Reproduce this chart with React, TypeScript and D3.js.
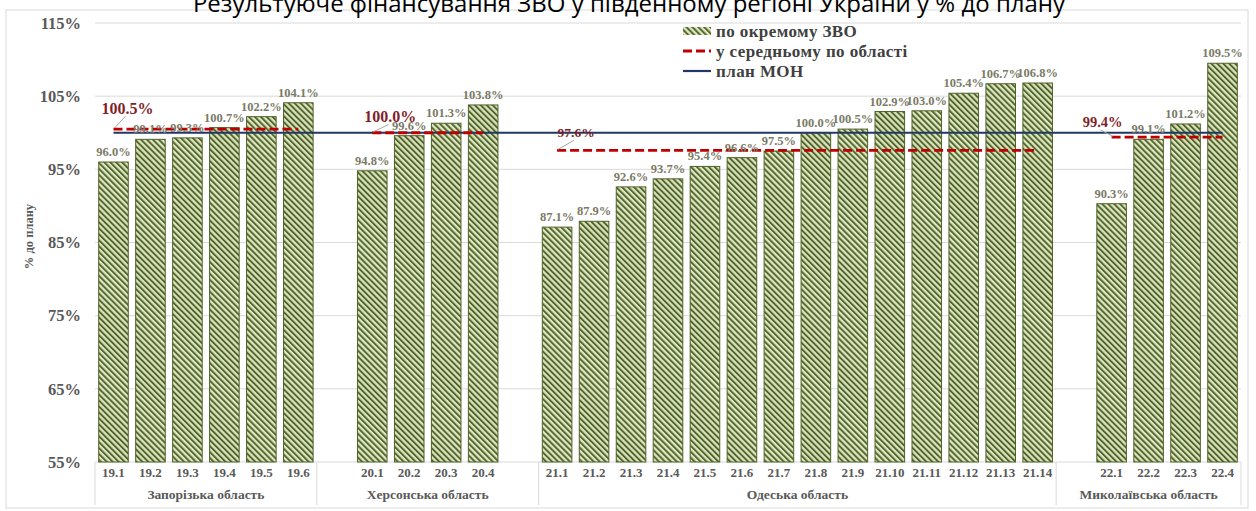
import React from 'react';
import { scaleBand, scaleLinear } from 'd3';

const W = 1256;
const H = 511;

const title = 'Результуюче фінансування ЗВО у південному регіоні України у % до плану';

// regions, in the order they stand on the axis
const regions = ['Запорізька область', 'Херсонська область', 'Одеська область', 'Миколаївська область'];

// '' marks an empty category slot, as in the source workbook
const zapCodes = ['19.1', '19.2', '19.3', '19.4', '19.5', '19.6'];
const zapValues = [96.0, 99.1, 99.3, 100.7, 102.2, 104.1];

const khersonCodes = ['', '20.1', '20.2', '20.3', '20.4', ''];
const khersonValues = [null, 94.8, 99.6, 101.3, 103.8, null];

const odesaCodes = ['21.1', '21.2', '21.3', '21.4', '21.5', '21.6', '21.7', '21.8', '21.9', '21.10', '21.11', '21.12', '21.13', '21.14'];
const odesaValues = [87.1, 87.9, 92.6, 93.7, 95.4, 96.6, 97.5, 100.0, 100.5, 102.9, 103.0, 105.4, 106.7, 106.8];

const mykolaivCodes = ['', '22.1', '22.2', '22.3', '22.4'];
const mykolaivValues = [null, 90.3, 99.1, 101.2, 109.5];

const regionAverages = [100.5, 100.0, 97.6, 99.4];
const planValue = 100;

const yTicks = [55, 65, 75, 85, 95, 105, 115];

const legendLabels = ['по окремому ЗВО', 'у середньому по області', 'план МОН'];

// where the average labels sit, relative to the first point of each line
const avgLabelOffsets = [
    { dx: 14, dy: -21, size: 16 },
    { dx: 18, dy: -16, size: 16 },
    { dx: 19, dy: -18, size: 13.5 },
    { dx: -9, dy: -15, size: 14.5 }
];

const serif = '"Liberation Serif", "Times New Roman", serif';
const olive = '#4f6228';
const lightGreen = '#dce6c0';
const red = '#c00000';
const navy = '#1f3864';
const grey = '#595959';

const groupCodes = [zapCodes, khersonCodes, odesaCodes, mykolaivCodes];
const groupValues = [zapValues, khersonValues, odesaValues, mykolaivValues];

type Slot = { key: string; code: string; value: number | null; group: number };

const slots: Slot[] = [];
groupCodes.forEach((codes, g) => {
    codes.forEach((code, i) => {
        slots.push({ key: `${g}-${i}`, code, value: groupValues[g][i], group: g });
    });
});

export default function App() {
    const left = 95;
    const right = 1241;
    const top = 23;
    const bottom = 462;

    const x = scaleBand<string>()
        .domain(slots.map(s => s.key))
        .range([left, right])
        .paddingInner(0.2)
        .paddingOuter(0.1);

    const step = x.step();
    const cx = (key: string) => (x(key) as number) + x.bandwidth() / 2;

    const y = scaleLinear().domain([55, 115]).range([bottom, top]);

    const bars = slots.filter(s => s.value !== null);

    // group boundaries on the category axis
    const bounds: number[] = [left];
    let count = 0;
    groupCodes.forEach(codes => {
        count += codes.length;
        bounds.push(left + count * step);
    });

    const groupFirstLast = groupCodes.map((codes, g) => {
        const real = slots.filter(s => s.group === g && s.value !== null);
        return [real[0].key, real[real.length - 1].key];
    });

    const firstKey = bars[0].key;
    const lastKey = bars[bars.length - 1].key;

    return (
        <div style={{ position: 'fixed', left: 0, top: 0 }}>
            <svg width={W} height={H} style={{ display: 'block', background: '#fff' }}>
                <defs>
                    <pattern id="hatch" patternUnits="userSpaceOnUse" width="4.2" height="4.2"
                        patternTransform="rotate(-45)">
                        <rect width="4.2" height="4.2" fill={lightGreen} />
                        <line x1="1" y1="0" x2="1" y2="4.2" stroke={olive} strokeWidth="1.9" />
                    </pattern>
                </defs>

                <rect x={6} y={10} width={1242} height={498} fill="none" stroke="#d9d9d9" />

                <text x={629} y={12} textAnchor="middle" fontFamily='"Open Sans", sans-serif'
                    fontSize={24} fill="#000">{title}</text>

                {/* gridlines and y ticks */}
                {yTicks.map(t => (
                    <g key={t}>
                        <line x1={left} x2={right} y1={y(t)} y2={y(t)} stroke="#d9d9d9" />
                        <text x={81} y={y(t)} dy="0.35em" textAnchor="end" fontFamily={serif}
                            fontWeight="bold" fontSize={16.5} fill={grey}>{t}%</text>
                    </g>
                ))}

                <text transform={`translate(33,${(top + bottom) / 2 - 6}) rotate(-90)`} textAnchor="middle"
                    fontFamily={serif} fontWeight="bold" fontSize={12.5} fill={grey}>% до плану</text>

                {/* category axis: dividers, codes, region names */}
                {bounds.map((b, i) => (
                    <line key={i} x1={b} x2={b} y1={bottom} y2={505} stroke="#d9d9d9" />
                ))}
                {slots.filter(s => s.code).map(s => (
                    <text key={s.key} x={cx(s.key)} y={477} textAnchor="middle" fontFamily={serif}
                        fontWeight="bold" fontSize={13} fill={grey}>{s.code}</text>
                ))}
                {regions.map((r, i) => (
                    <text key={r} x={(bounds[i] + bounds[i + 1]) / 2} y={499} textAnchor="middle"
                        fontFamily={serif} fontWeight="bold" fontSize={13.5} fill={grey}>{r}</text>
                ))}

                {/* bars */}
                {bars.map(s => (
                    <rect key={s.key} x={x(s.key)} y={y(s.value as number)} width={x.bandwidth()}
                        height={bottom - y(s.value as number)} fill="url(#hatch)" stroke={olive} strokeWidth={1} />
                ))}

                {/* plan line */}
                <line x1={cx(firstKey)} x2={cx(lastKey)} y1={y(planValue)} y2={y(planValue)}
                    stroke={navy} strokeWidth={2.2} />

                {/* regional averages */}
                {regionAverages.map((v, g) => {
                    const [a, b] = groupFirstLast[g];
                    const x0 = cx(a);
                    const off = avgLabelOffsets[g];
                    return (
                        <g key={g}>
                            <line x1={x0} x2={cx(b)} y1={y(v)} y2={y(v)} stroke={red} strokeWidth={2.8}
                                strokeDasharray="9 4" />
                            <line x1={x0 + 1} y1={y(v) - 1} x2={x0 + off.dx - 2} y2={y(v) + off.dy + 8}
                                stroke="#a6a6a6" strokeWidth={1} />
                            <text x={x0 + off.dx} y={y(v) + off.dy} dy="0.35em" textAnchor="middle"
                                fontFamily={serif} fontWeight="bold" fontSize={off.size} fill="#7f1f2a">
                                {v.toFixed(1)}%
                            </text>
                        </g>
                    );
                })}

                {/* bar value labels */}
                {bars.map(s => (
                    <text key={s.key} x={cx(s.key)} y={y(s.value as number) - 6} textAnchor="middle"
                        fontFamily={serif} fontWeight="bold" fontSize={12.5} fill="#7a7a66">
                        {(s.value as number).toFixed(1)}%
                    </text>
                ))}

                {/* legend */}
                <g transform="translate(683,31)">
                    <rect x={0} y={-4} width={28} height={8} fill="url(#hatch)" />
                    <line x1={0} x2={28} y1={20} y2={20} stroke={red} strokeWidth={2.8} strokeDasharray="9 4" />
                    <line x1={0} x2={28} y1={40} y2={40} stroke={navy} strokeWidth={2.2} />
                    {legendLabels.map((l, i) => (
                        <text key={l} x={33} y={i * 20} dy="0.35em" fontFamily={serif} fontWeight="bold"
                            fontSize={17} letterSpacing={0.4} fill="#404040">{l}</text>
                    ))}
                </g>
            </svg>
        </div>
    );
}
